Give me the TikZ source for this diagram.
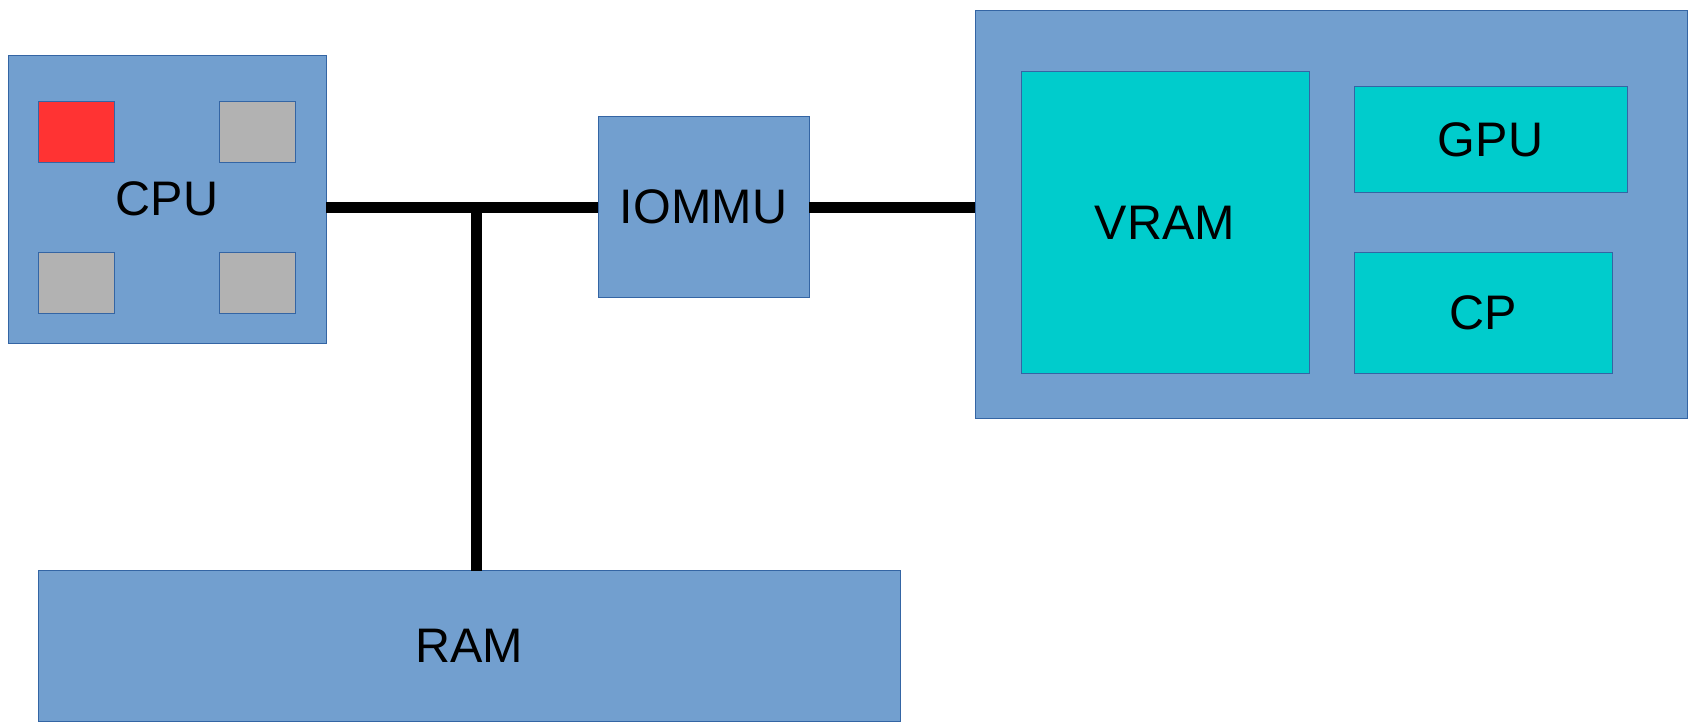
\documentclass[tikz,border=0pt]{standalone}
\usepackage{fontspec}
\setmainfont{Liberation Sans}
\definecolor{boxblue}{HTML}{729FCF}
\definecolor{edgeblue}{HTML}{3465A4}
\definecolor{chipcyan}{HTML}{00CCCC}
\definecolor{corered}{HTML}{FF3333}
\definecolor{coregray}{HTML}{B2B2B2}
\tikzset{
  blk/.style={draw=edgeblue, line width=0.9pt, fill=boxblue, inner sep=0pt, outer sep=0pt,
    font=\fontsize{48.5}{56}\selectfont, text=black},
  chip/.style={blk, fill=chipcyan},
  core/.style={draw=edgeblue, line width=0.9pt, inner sep=0pt, outer sep=0pt, minimum width=76pt, minimum height=61pt},
  bus/.style={line width=11pt, black}
}
\begin{document}
\begin{tikzpicture}[x=1pt,y=-1pt]
\useasboundingbox (0,0) rectangle (1695,724);
\node[blk, minimum width=318pt, minimum height=288pt] (cpu) at (167,199) {CPU};
\node[core, fill=corered] (c1) at (76,131.5) {};
\node[core, fill=coregray] (c2) at (257,131.5) {};
\node[core, fill=coregray] (c3) at (76,282.5) {};
\node[core, fill=coregray] (c4) at (257,282.5) {};
\node[blk, minimum width=211pt, minimum height=181pt] (iommu) at (703.5,206.5) {IOMMU};
\node[blk, minimum width=712pt, minimum height=408pt] (gpubox) at (1331,214) {};
\node[chip, minimum width=288pt, minimum height=302pt] (vram) at (1165,222.5) {VRAM};
\node[chip, minimum width=273pt, minimum height=106pt] (gpu) at (1490.5,139.5) {GPU};
\node[chip, minimum width=258pt, minimum height=121pt] (cp) at (1483,313) {CP};
\node[blk, minimum width=862pt, minimum height=151pt] (ram) at (469,646) {RAM};
\coordinate (j) at (476,207.5);
\draw[bus] (cpu.east |- j) -- (iommu.west |- j);
\draw[bus] (iommu.east |- j) -- (gpubox.west |- j);
\draw[bus] (j) -- (j |- ram.north);
\end{tikzpicture}
\end{document}
